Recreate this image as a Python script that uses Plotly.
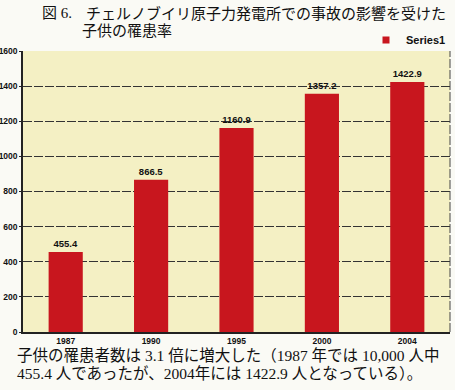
import plotly.graph_objects as go

years = ["1987", "1990", "1995", "2000", "2004"]
values = [455.4, 866.5, 1160.9, 1357.2, 1422.9]
value_labels = ["455.4", "866.5", "1160.9", "1357.2", "1422.9"]
y_ticks = [0, 200, 400, 600, 800, 1000, 1200, 1400, 1600]
series_name = "Series1"
title_fig = "図 6."
title_line1 = "チェルノブイリ原子力発電所での事故の影響を受けた"
title_line2 = "子供の罹患率"
note_line1 = "子供の罹患者数は 3.1 倍に増大した（1987 年では 10,000 人中"
note_line2 = "455.4 人であったが、2004年には 1422.9 人となっている）。"

W, H = 455, 390
L, R, T, B = 23, 5, 51, 58
pw, ph = W - L - R, H - T - B

def px(x):
    return (x - L) / pw

def py(y):
    return (H - B - y) / ph

BAR = "#c8161e"
TICKFONT = "Liberation Sans Narrow, Liberation Sans, Arial, sans-serif"
fig = go.Figure()
fig.add_trace(go.Bar(
    x=years, y=values, name=series_name, showlegend=False,
    marker=dict(color=BAR, line=dict(width=0)),
    text=["<b>" + t + "</b>" for t in value_labels], textposition="outside",
    textfont=dict(family="Liberation Sans, Arial, sans-serif", size=9.5, color="#111"),
    cliponaxis=False,
))
# legend entry (small square as in the reference)
fig.add_trace(go.Scatter(
    x=[None], y=[None], mode="markers", name="<b>" + series_name + "</b>",
    marker=dict(symbol="square", size=7, color=BAR),
))

ann_font_title = dict(family="Liberation Serif, Noto Sans CJK JP", size=15, color="#111")
ann_font_note = dict(family="Liberation Serif, Noto Sans CJK JP", size=15.5, color="#111")

fig.update_layout(
    width=W, height=H,
    margin=dict(l=L, r=R, t=T, b=B, autoexpand=False),
    paper_bgcolor="#fafaf5",
    plot_bgcolor="#f4f0c4",
    bargap=0.6,
    showlegend=True,
    legend=dict(x=px(366), y=py(40), xanchor="left", yanchor="middle",
                font=dict(family="Liberation Sans, Arial, sans-serif", size=11, color="#111"),
                bgcolor="rgba(0,0,0,0)", itemwidth=30),
    xaxis=dict(
        type="category", automargin=False,
        tickfont=dict(family=TICKFONT, size=8.5, color="#111"),
        tickvals=years, ticktext=["<b>" + y + "</b>" for y in years],
        showline=True, linecolor="#222", linewidth=1.5, mirror=False,
        ticks="", showgrid=False,
    ),
    yaxis=dict(
        range=[0, 1600], tickvals=y_ticks, automargin=False,
        ticktext=["<b>" + str(v) + "</b>" for v in y_ticks],
        tickfont=dict(family=TICKFONT, size=8.5, color="#111"),
        showline=True, linecolor="#222", linewidth=1.5,
        ticks="outside", ticklen=2, tickcolor="#222",
        showgrid=True, gridcolor="#333", gridwidth=1.3, griddash="9px,2px",
        zeroline=False,
    ),
    annotations=[
        dict(text=title_fig, xref="paper", yref="paper", x=px(40), y=py(13),
             xanchor="left", yanchor="middle", showarrow=False, font=ann_font_title),
        dict(text=title_line1, xref="paper", yref="paper", x=px(84), y=py(13),
             xanchor="left", yanchor="middle", showarrow=False, font=ann_font_title),
        dict(text=title_line2, xref="paper", yref="paper", x=px(80), y=py(31),
             xanchor="left", yanchor="middle", showarrow=False, font=ann_font_title),
        dict(text=note_line1, xref="paper", yref="paper", x=px(15), y=py(355),
             xanchor="left", yanchor="middle", showarrow=False, font=ann_font_note),
        dict(text=note_line2, xref="paper", yref="paper", x=px(15), y=py(373),
             xanchor="left", yanchor="middle", showarrow=False, font=ann_font_note),
    ],
)

# right border of plot area
fig.add_shape(type="line", xref="paper", yref="paper", x0=1, x1=1, y0=0, y1=1,
              line=dict(color="#444", width=1, dash="9px,2px"))

fig.write_html("out.html", config={"displayModeBar": False},
               post_script="document.body.style.margin='0';")
